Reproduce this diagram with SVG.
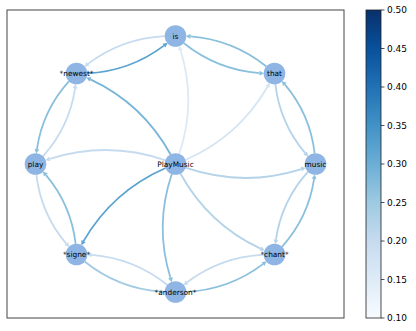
<svg xmlns="http://www.w3.org/2000/svg" width="416" height="331" viewBox="0 0 416 331">
<style>
.e{fill:none;stroke-width:1.8}
.c15{stroke:#dce9f6;marker-end:url(#m15)}
.c17{stroke:#d3e4f3;marker-end:url(#m17)}
.c20{stroke:#c6dbef;marker-end:url(#m20)}
.c22{stroke:#b4d3e9;marker-end:url(#m22)}
.c25{stroke:#a1cbe2;marker-end:url(#m25)}
.c27{stroke:#8bc0dd;marker-end:url(#m27)}
.c29{stroke:#79b5d9;marker-end:url(#m29)}
.c32{stroke:#5ba3d0;marker-end:url(#m32)}
.node circle{fill:#8eb5e3}
.node text,.lbl{font-family:"DejaVu Sans","Liberation Sans",sans-serif;fill:#000}
.node text{font-size:7.4px;text-anchor:middle;dominant-baseline:central}
.lbl{font-size:9px;dominant-baseline:central}
</style>
<defs>
<marker id="m15" markerUnits="userSpaceOnUse" markerWidth="6" markerHeight="6" viewBox="0 -3 6 6" refX="0" refY="0" orient="auto" overflow="visible"><path d="M0,-2.4L4.6,0L0,2.4z" fill="#dce9f6"/></marker>
<marker id="m17" markerUnits="userSpaceOnUse" markerWidth="6" markerHeight="6" viewBox="0 -3 6 6" refX="0" refY="0" orient="auto" overflow="visible"><path d="M0,-2.4L4.6,0L0,2.4z" fill="#d3e4f3"/></marker>
<marker id="m20" markerUnits="userSpaceOnUse" markerWidth="6" markerHeight="6" viewBox="0 -3 6 6" refX="0" refY="0" orient="auto" overflow="visible"><path d="M0,-2.4L4.6,0L0,2.4z" fill="#c6dbef"/></marker>
<marker id="m22" markerUnits="userSpaceOnUse" markerWidth="6" markerHeight="6" viewBox="0 -3 6 6" refX="0" refY="0" orient="auto" overflow="visible"><path d="M0,-2.4L4.6,0L0,2.4z" fill="#b4d3e9"/></marker>
<marker id="m25" markerUnits="userSpaceOnUse" markerWidth="6" markerHeight="6" viewBox="0 -3 6 6" refX="0" refY="0" orient="auto" overflow="visible"><path d="M0,-2.4L4.6,0L0,2.4z" fill="#a1cbe2"/></marker>
<marker id="m27" markerUnits="userSpaceOnUse" markerWidth="6" markerHeight="6" viewBox="0 -3 6 6" refX="0" refY="0" orient="auto" overflow="visible"><path d="M0,-2.4L4.6,0L0,2.4z" fill="#8bc0dd"/></marker>
<marker id="m29" markerUnits="userSpaceOnUse" markerWidth="6" markerHeight="6" viewBox="0 -3 6 6" refX="0" refY="0" orient="auto" overflow="visible"><path d="M0,-2.4L4.6,0L0,2.4z" fill="#79b5d9"/></marker>
<marker id="m32" markerUnits="userSpaceOnUse" markerWidth="6" markerHeight="6" viewBox="0 -3 6 6" refX="0" refY="0" orient="auto" overflow="visible"><path d="M0,-2.4L4.6,0L0,2.4z" fill="#5ba3d0"/></marker>
<linearGradient id="blues" x1="0" y1="0" x2="0" y2="1">
<stop offset="0" stop-color="#08306b"/>
<stop offset="0.125" stop-color="#08519c"/>
<stop offset="0.25" stop-color="#2171b5"/>
<stop offset="0.375" stop-color="#4292c6"/>
<stop offset="0.5" stop-color="#6baed6"/>
<stop offset="0.625" stop-color="#9ecae1"/>
<stop offset="0.75" stop-color="#c6dbef"/>
<stop offset="0.875" stop-color="#deebf7"/>
<stop offset="1" stop-color="#f7fbff"/>
</linearGradient>
</defs>
<rect x="0" y="0" width="416" height="331" fill="#fff"/>
<rect x="7" y="10" width="337" height="308" fill="none" stroke="#444" stroke-width="1"/>
<g id="edges">
<path class="e c27" d="M266.41,66.55Q232.92,39.72 190.52,36.43"/>
<path class="e c27" d="M183.59,42.95Q217.08,69.78 259.48,73.07"/>
<path class="e c27" d="M314.65,153.38Q310.07,114.21 284.80,84.42"/>
<path class="e c22" d="M275.35,84.12Q279.93,123.29 305.21,153.08"/>
<path class="e c27" d="M281.92,246.86Q308.35,217.59 314.08,178.94"/>
<path class="e c22" d="M308.08,171.64Q281.65,200.91 275.93,239.56"/>
<path class="e c27" d="M186.16,291.85Q229.02,289.76 262.96,264.13"/>
<path class="e c20" d="M263.84,254.66Q220.98,256.74 187.04,282.37"/>
<path class="e c25" d="M84.59,261.45Q118.08,288.28 160.48,291.57"/>
<path class="e c20" d="M167.41,285.05Q133.92,258.22 91.52,254.93"/>
<path class="e c20" d="M36.35,174.62Q40.93,213.79 66.21,243.58"/>
<path class="e c27" d="M75.65,243.88Q71.07,204.71 45.80,174.92"/>
<path class="e c27" d="M69.08,81.14Q42.65,110.41 36.93,149.06"/>
<path class="e c20" d="M42.92,156.36Q69.35,127.09 75.08,88.44"/>
<path class="e c20" d="M164.84,36.16Q121.98,38.24 88.04,63.87"/>
<path class="e c32" d="M87.16,73.35Q130.02,71.26 163.96,45.63"/>
<path class="e c15" d="M179.20,153.98Q196.70,102.09 180.56,50.21"/>
<path class="e c27" d="M171.80,174.02Q154.30,225.91 170.44,277.79"/>
<path class="e c22" d="M185.52,167.72Q243.41,187.56 301.29,169.11"/>
<path class="e c20" d="M165.48,160.28Q107.59,140.44 49.71,158.89"/>
<path class="e c17" d="M185.41,159.97Q238.58,136.68 267.45,86.83"/>
<path class="e c22" d="M180.40,173.51Q208.36,224.38 260.59,248.67"/>
<path class="e c32" d="M165.59,168.03Q112.42,191.32 83.55,241.17"/>
<path class="e c29" d="M170.60,154.49Q142.64,103.62 90.41,79.33"/>
</g>
<g id="node-is" class="node"><circle cx="175.5" cy="36" r="10.8"/><text x="175.5" y="36">is</text></g>
<g id="node-that" class="node"><circle cx="274.5" cy="73.5" r="10.8"/><text x="274.5" y="73.5">that</text></g>
<g id="node-music" class="node"><circle cx="315.5" cy="164" r="10.8"/><text x="315.5" y="164">music</text></g>
<g id="node-chant" class="node"><circle cx="274.5" cy="254.5" r="10.8"/><text x="274.5" y="254.5">*chant*</text></g>
<g id="node-anderson" class="node"><circle cx="175.5" cy="292" r="10.8"/><text x="175.5" y="292">*anderson*</text></g>
<g id="node-signe" class="node"><circle cx="76.5" cy="254.5" r="10.8"/><text x="76.5" y="254.5">*signe*</text></g>
<g id="node-play" class="node"><circle cx="35.5" cy="164" r="10.8"/><text x="35.5" y="164">play</text></g>
<g id="node-newest" class="node"><circle cx="76.5" cy="73.5" r="10.8"/><text x="76.5" y="73.5">*newest*</text></g>
<g id="node-PlayMusic" class="node"><circle cx="175.5" cy="164" r="10.8"/><text x="175.5" y="164">PlayMusic</text></g>
<g id="colorbar">
<rect x="366" y="10" width="15" height="308" fill="url(#blues)" stroke="#222" stroke-width="0.8"/>
<g stroke="#222" stroke-width="0.8">
<line x1="381" y1="10" x2="384.5" y2="10"/>
<line x1="381" y1="48.5" x2="384.5" y2="48.5"/>
<line x1="381" y1="87" x2="384.5" y2="87"/>
<line x1="381" y1="125.5" x2="384.5" y2="125.5"/>
<line x1="381" y1="164" x2="384.5" y2="164"/>
<line x1="381" y1="202.5" x2="384.5" y2="202.5"/>
<line x1="381" y1="241" x2="384.5" y2="241"/>
<line x1="381" y1="279.5" x2="384.5" y2="279.5"/>
<line x1="381" y1="318" x2="384.5" y2="318"/>
</g>
<text class="lbl" x="387" y="10">0.50</text>
<text class="lbl" x="387" y="48.5">0.45</text>
<text class="lbl" x="387" y="87">0.40</text>
<text class="lbl" x="387" y="125.5">0.35</text>
<text class="lbl" x="387" y="164">0.30</text>
<text class="lbl" x="387" y="202.5">0.25</text>
<text class="lbl" x="387" y="241">0.20</text>
<text class="lbl" x="387" y="279.5">0.15</text>
<text class="lbl" x="387" y="318">0.10</text>
</g>
</svg>
